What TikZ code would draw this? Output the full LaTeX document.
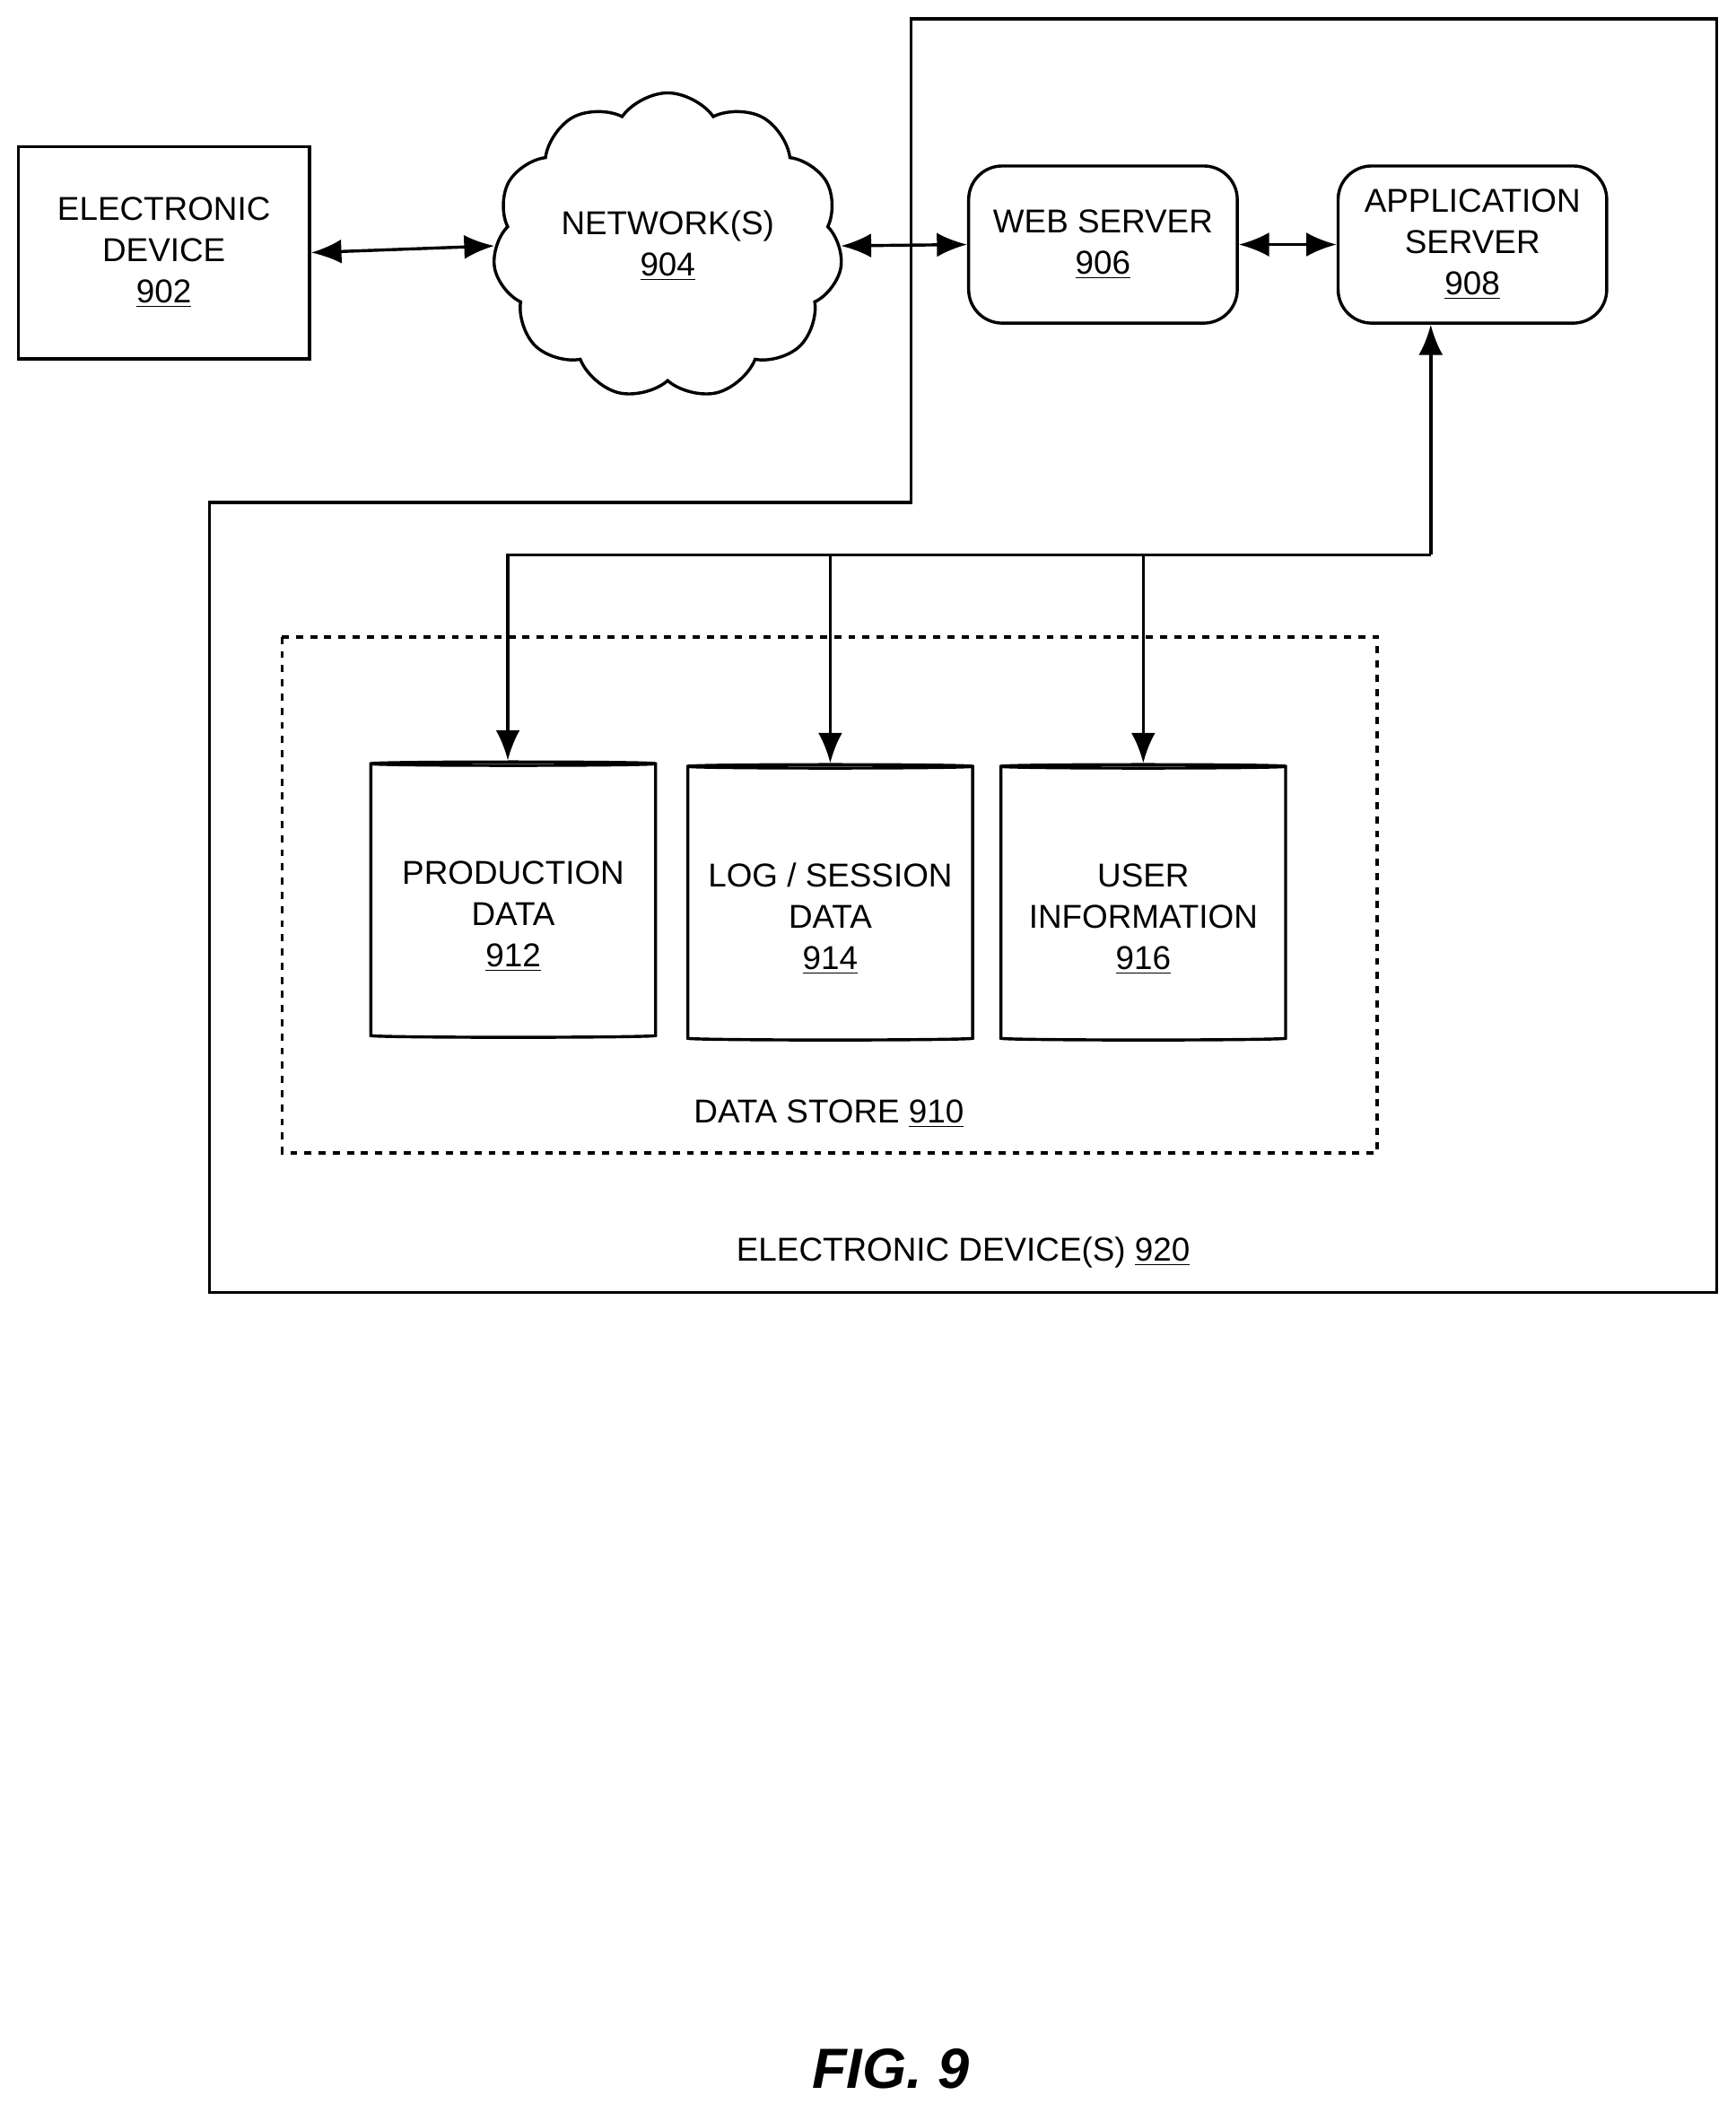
\documentclass[tikz,border=0pt]{standalone}
\usepackage{fontspec}
\setmainfont{Liberation Sans}
\usetikzlibrary{shapes.geometric,shapes.symbols,arrows.meta,positioning}
\begin{document}
\begin{tikzpicture}[x=0.02cm, y=-0.02cm, line width=1.3pt, >={Latex[length=4.5mm,width=3.6mm]},
                    font=\fontsize{14}{17.5}\selectfont, align=center]
  \tikzstyle{box} = [rectangle, draw=black, minimum width=4.34cm, minimum height=3.16cm]
  \tikzstyle{server} = [rectangle, rounded corners=0.5cm, draw=black,
                        minimum width=4cm, minimum height=2.34cm]
  \tikzstyle{store} = [cylinder, shape border rotate=90, aspect=0.22, draw=black,
                       minimum width=4.24cm, minimum height=4.1cm]

  \useasboundingbox (0,0) rectangle (1292,1566);

  % outer device outline
  \draw (678,14) -- (1278,14) -- (1278,962) -- (156,962) -- (156,374) -- (678,374) -- cycle;
  \draw[dashed] (210,474) rectangle (1025,858);

  \node (dev)  [box] at (122,188) {ELECTRONIC\\DEVICE\\\underline{902}};
  \node (net)  [cloud, draw=black, cloud puffs=11, cloud puff arc=110, aspect=1.2,
                minimum width=4.5cm, minimum height=3.6cm] at (497,183) {NETWORK(S)\\\underline{904}};
  \node (web)  [server] at (821,182) {WEB SERVER\\\underline{906}};
  \node (app)  [server] at (1096,182) {APPLICATION\\SERVER\\\underline{908}};

  \node (prod) [store] at (382,671) {};
  \node (log)  [store] at (618,673) {};
  \node (user) [store] at (851,673) {};
  \node at (382,682) {PRODUCTION\\DATA\\\underline{912}};
  \node at (618,684) {LOG / SESSION\\DATA\\\underline{914}};
  \node at (851,684) {USER\\INFORMATION\\\underline{916}};

  \node (ds)   at (617,829) {DATA STORE \underline{910}};
  \node (ed)   at (717,932) {ELECTRONIC DEVICE(S) \underline{920}};
  \node (fig)  at (663,1540) {\fontsize{24}{28}\selectfont\bfseries\itshape FIG. 9};

  \coordinate (bus) at (1065,413);
  \coordinate (busl) at (378,413);

  \draw [<->] (dev.east) -- (net.west);
  \draw [<->] (net.east) -- (web.west);
  \draw [<->] (web.east) -- (app.east -| app.west);
  \draw [->] (bus) -- (app.south -| bus);
  \draw [->] (bus) -- (busl) -- (prod.top -| busl);
  \draw [->] (log.top |- bus) -- (log.top);
  \draw [->] (user.top |- bus) -- (user.top);
\end{tikzpicture}
\end{document}
